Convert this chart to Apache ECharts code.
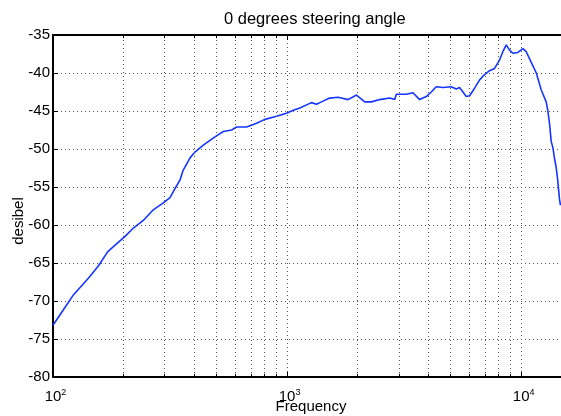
<!DOCTYPE html>
<html>
<head>
<meta charset="utf-8">
<script src="https://cdn.jsdelivr.net/npm/echarts@6/dist/echarts.min.js"></script>
<style>
html,body{margin:0;padding:0;background:#fff;}
#chart{width:561px;height:416px;}
</style>
</head>
<body>
<div id="chart"></div>
<script>
const titleText = '0 degrees steering angle';
const xName = 'Frequency';
const yName = 'desibel';
const freqHz = [100, 114.5, 122.2, 141.6, 156.2, 171.4, 203.1, 220.5, 243.1, 268.1,
  295.8, 316, 332, 348.6, 359.5, 384.4, 403.9, 438.5, 491.9, 533.9,
  579.6, 608.7, 671.5, 740.2, 803.4, 901.3, 994, 1062, 1133, 1271,
  1335, 1402, 1521, 1651, 1821, 1978, 2146, 2291, 2486, 2743,
  2880, 2929, 3231, 3447, 3681, 3932, 4130, 4335, 4630, 5024,
  5279, 5453, 5637, 5825, 6018, 6323, 6642, 6974, 7322, 7692,
  8080, 8347, 8630, 8917, 9211, 9677, 10163, 10508, 11037, 11597,
  12172, 12785, 12980, 13207, 13430, 13650, 13870, 14100, 14330, 14570,
  14710];
const levelDb = [-73.2, -70.5, -69.2, -67.0, -65.4, -63.5, -61.5, -60.4, -59.4, -58.0,
  -57.1, -56.4, -55.2, -54.1, -52.8, -51.2, -50.4, -49.5, -48.4, -47.7,
  -47.5, -47.1, -47.1, -46.6, -46.1, -45.7, -45.3, -44.9, -44.6, -43.9,
  -44.1, -43.8, -43.3, -43.2, -43.5, -42.9, -43.8, -43.8, -43.5, -43.3,
  -43.5, -42.8, -42.8, -42.6, -43.5, -43.1, -42.5, -41.8, -41.9, -41.8,
  -42.1, -41.9, -42.5, -43.1, -43.0, -42.0, -40.9, -40.2, -39.7, -39.4,
  -38.3, -37.2, -36.3, -37.0, -37.4, -37.3, -36.8, -37.2, -38.6, -40.0,
  -42.2, -43.8, -44.9, -46.6, -49.0, -49.8, -51.2, -52.4, -54.2, -56.6,
  -57.4];
const minorFreqs = [200, 300, 400, 500, 600, 700, 800, 900, 2000, 3000, 4000, 5000, 6000, 7000, 8000, 9000];
const xMin = 100, xMax = 16000;
const yMin = -80, yMax = -35, yStep = 5;

const FONT = "'Liberation Sans', Arial, Helvetica, sans-serif";
const chart = echarts.init(document.getElementById('chart'), null, {renderer: 'canvas'});

const dotted = {type: [1, 3], color: '#555', width: 1};
const minorTickLen = 0.42; // in dB units (~3px)
const minorGridLines = minorFreqs.map(f => ({xAxis: f}));
const minorTickLines = [];
minorFreqs.forEach(f => {
  minorTickLines.push([{coord: [f, yMin]}, {coord: [f, yMin + minorTickLen]}]);
  minorTickLines.push([{coord: [f, yMax]}, {coord: [f, yMax - minorTickLen]}]);
});

function powLabel(v) {
  const e = Math.round(Math.log10(v));
  if (Math.abs(v - Math.pow(10, e)) / v < 1e-6) return '{b|10}{s|' + e + '}';
  return '';
}

const option = {
  animation: false,
  backgroundColor: '#fff',
  textStyle: {fontFamily: FONT},
  title: {
    text: titleText,
    left: 224,
    top: 11,
    padding: 0,
    textStyle: {fontSize: 16.5, fontWeight: 'normal', color: '#000', fontFamily: FONT}
  },
  grid: {left: 53, right: -8, top: 35, bottom: 39, containLabel: false, outerBoundsMode: 'none'},
  xAxis: [{
    type: 'log', logBase: 10, min: xMin, max: xMax, position: 'bottom',
    name: xName, nameLocation: 'middle', nameGap: 22, nameMoveOverlap: false,
    nameTextStyle: {fontSize: 15, color: '#000', fontFamily: FONT},
    axisLine: {show: true, onZero: false, lineStyle: {color: '#000', width: 2}},
    axisTick: {show: true, inside: true, length: 5, lineStyle: {color: '#000', width: 1}},
    axisLabel: {
      show: true, margin: 11, color: '#000', formatter: powLabel,
      padding: [0, 0, 0, 5], hideOverlap: false,
      rich: {
        b: {fontSize: 15, lineHeight: 16, verticalAlign: 'bottom', color: '#000', fontFamily: FONT},
        s: {fontSize: 9, lineHeight: 9, verticalAlign: 'top', color: '#000', fontFamily: FONT}
      }
    },
    splitLine: {show: true, lineStyle: dotted},
    minorTick: {show: false}, minorSplitLine: {show: false}
  }, {
    type: 'log', logBase: 10, min: xMin, max: xMax, position: 'top',
    axisLine: {show: true, onZero: false, lineStyle: {color: '#000', width: 2}},
    axisTick: {show: true, inside: true, length: 5, lineStyle: {color: '#000', width: 1}},
    axisLabel: {show: false},
    splitLine: {show: false}
  }],
  yAxis: {
    type: 'value', min: yMin, max: yMax, interval: yStep,
    name: yName, nameLocation: 'middle', nameGap: 27, nameRotate: 90, nameMoveOverlap: false,
    nameTextStyle: {fontSize: 15, color: '#000', fontFamily: FONT, padding: [0, 30, 0, 0]},
    axisLine: {show: true, onZero: false, lineStyle: {color: '#000', width: 2}},
    axisTick: {show: true, inside: true, length: 5, lineStyle: {color: '#000', width: 1}},
    axisLabel: {show: true, margin: 3, fontSize: 15, color: '#000', fontFamily: FONT, padding: [4, 0, 0, 0]},
    splitLine: {show: true, lineStyle: dotted}
  },
  series: [{
    type: 'line', data: [], z: 1, silent: true,
    markLine: {
      silent: true, symbol: ['none', 'none'], label: {show: false}, animation: false,
      lineStyle: dotted,
      emphasis: {disabled: true},
      data: minorGridLines
    }
  }, {
    type: 'line', data: [], z: 3, silent: true,
    markLine: {
      silent: true, symbol: ['none', 'none'], label: {show: false}, animation: false,
      lineStyle: {type: 'solid', color: '#000', width: 1},
      emphasis: {disabled: true},
      data: minorTickLines
    }
  }, {
    type: 'line', z: 2,
    data: freqHz.map((f, i) => [f, levelDb[i]]),
    showSymbol: false, symbol: 'none', smooth: false,
    lineStyle: {color: '#1536ff', width: 1.6},
    clip: false
  }]
};
chart.setOption(option);
</script>
</body>
</html>
